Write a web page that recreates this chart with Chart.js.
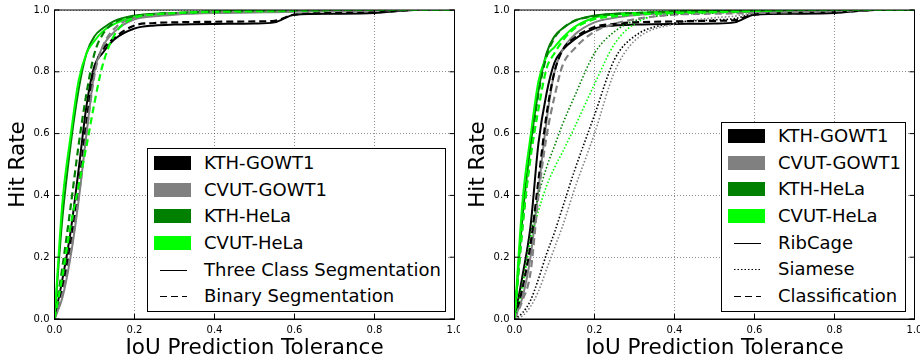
<!DOCTYPE html>
<html>
<head>
<meta charset="utf-8">
<script src="https://cdn.jsdelivr.net/npm/chart.js@4.4.1/dist/chart.umd.min.js"></script>
<style>
body { margin:0; background:#fff; width:923px; height:360px; overflow:hidden; position:relative; font-family:"DejaVu Sans", sans-serif; }
.panel { position:absolute; top:0; width:460px; height:360px; }
.legend { position:absolute; background:#fff; border:1px solid #000; box-sizing:border-box; font-size:18px; color:#000; }
.row { position:absolute; left:0; height:26px; }
.row .patch { position:absolute; left:6px; top:6px; width:37px; height:14px; }
.row svg { position:absolute; left:12px; top:0; }
.row .txt { position:absolute; left:56px; top:0; line-height:26px; white-space:nowrap; }
</style>
</head>
<body>
<div class="panel" style="left:0"><canvas id="left-canvas" width="460" height="360"></canvas></div>
<div class="panel" style="left:460px"><canvas id="right-canvas" width="460" height="360"></canvas></div>
<div class="legend" id="left-legend" style="left:147px; top:148px; width:299px; height:164px;"></div>
<div class="legend" id="right-legend" style="left:721px; top:122px; width:185px; height:190px;"></div>
<script>
// IoU tolerance values shared by every curve
let tolerance = [0, 0.02, 0.04, 0.06, 0.08, 0.1, 0.12, 0.15, 0.2, 0.25, 0.3, 0.4, 0.5, 0.55, 0.6, 0.7, 0.8, 0.9, 1.0];
let tick_values = [0, 0.2, 0.4, 0.6, 0.8, 1.0];

// left panel: three class segmentation (solid)
let left_kth_gowt_three  = [0, 0.13, 0.28, 0.48, 0.69, 0.82, 0.86, 0.905, 0.94, 0.95, 0.953, 0.955, 0.956, 0.96, 0.985, 0.988, 0.99, 1, 1];
let left_cvut_gowt_three = [0, 0.07, 0.2, 0.38, 0.6, 0.8, 0.88, 0.93, 0.97, 0.98, 0.985, 0.99, 0.992, 0.993, 0.994, 0.996, 0.998, 1, 1];
let left_kth_hela_three  = [0, 0.33, 0.56, 0.74, 0.86, 0.915, 0.94, 0.965, 0.982, 0.988, 0.99, 0.995, 0.997, 0.998, 0.998, 1, 1, 1, 1];
let left_cvut_hela_three = [0, 0.38, 0.59, 0.77, 0.86, 0.9, 0.93, 0.955, 0.978, 0.986, 0.99, 0.993, 0.995, 0.996, 0.997, 1, 1, 1, 1];
// left panel: binary segmentation (dashed)
let left_kth_gowt_binary  = [0, 0.1, 0.24, 0.42, 0.64, 0.81, 0.87, 0.91, 0.95, 0.958, 0.96, 0.962, 0.963, 0.965, 0.985, 0.99, 0.992, 1, 1];
let left_cvut_gowt_binary = [0, 0.08, 0.21, 0.39, 0.6, 0.79, 0.88, 0.94, 0.975, 0.985, 0.99, 0.993, 0.995, 0.996, 0.997, 0.998, 0.999, 1, 1];
let left_kth_hela_binary  = [0, 0.17, 0.36, 0.56, 0.73, 0.86, 0.92, 0.96, 0.98, 0.987, 0.99, 0.995, 0.997, 0.998, 0.999, 1, 1, 1, 1];
let left_cvut_hela_binary = [0, 0.14, 0.3, 0.43, 0.56, 0.7, 0.82, 0.92, 0.975, 0.985, 0.99, 0.995, 0.997, 0.998, 0.999, 1, 1, 1, 1];

// right panel: RibCage (solid)
let rib_kth_gowt  = [0, 0.14, 0.3, 0.57, 0.73, 0.83, 0.87, 0.905, 0.94, 0.95, 0.953, 0.955, 0.956, 0.96, 0.985, 0.988, 0.99, 1, 1];
let rib_cvut_gowt = [0, 0.07, 0.2, 0.42, 0.64, 0.8, 0.87, 0.92, 0.96, 0.975, 0.983, 0.99, 0.992, 0.993, 0.994, 0.996, 0.998, 1, 1];
let rib_kth_hela  = [0, 0.33, 0.56, 0.74, 0.86, 0.915, 0.94, 0.965, 0.982, 0.988, 0.99, 0.995, 0.997, 0.998, 0.998, 1, 1, 1, 1];
let rib_cvut_hela = [0, 0.38, 0.59, 0.77, 0.85, 0.88, 0.91, 0.945, 0.975, 0.985, 0.99, 0.993, 0.995, 0.996, 0.997, 1, 1, 1, 1];
// right panel: Siamese (dotted)
let sia_kth_gowt  = [0, 0.02, 0.06, 0.13, 0.21, 0.28, 0.36, 0.48, 0.66, 0.84, 0.915, 0.958, 0.968, 0.972, 0.988, 0.99, 0.993, 1, 1];
let sia_cvut_gowt = [0, 0.01, 0.04, 0.09, 0.16, 0.23, 0.3, 0.42, 0.6, 0.8, 0.9, 0.955, 0.975, 0.98, 0.99, 0.993, 0.996, 1, 1];
let sia_kth_hela  = [0, 0.12, 0.27, 0.4, 0.49, 0.56, 0.63, 0.72, 0.86, 0.93, 0.965, 0.985, 0.99, 0.992, 0.995, 0.998, 1, 1, 1];
let sia_cvut_hela = [0, 0.1, 0.25, 0.35, 0.43, 0.49, 0.54, 0.62, 0.76, 0.89, 0.955, 0.99, 0.995, 0.996, 0.997, 1, 1, 1, 1];
// right panel: Classification (dashed)
let cls_kth_gowt  = [0, 0.1, 0.24, 0.45, 0.66, 0.8, 0.87, 0.91, 0.945, 0.955, 0.96, 0.963, 0.965, 0.967, 0.985, 0.99, 0.992, 1, 1];
let cls_cvut_gowt = [0, 0.06, 0.15, 0.4, 0.59, 0.72, 0.82, 0.875, 0.93, 0.955, 0.97, 0.985, 0.988, 0.989, 0.99, 0.993, 0.996, 1, 1];
let cls_kth_hela  = [0, 0.3, 0.54, 0.73, 0.85, 0.91, 0.94, 0.965, 0.98, 0.987, 0.99, 0.995, 0.997, 0.998, 0.999, 1, 1, 1, 1];
let cls_cvut_hela = [0, 0.3, 0.52, 0.68, 0.81, 0.86, 0.9, 0.94, 0.97, 0.98, 0.985, 0.99, 0.993, 0.995, 0.997, 1, 1, 1, 1];

let dataset_names = ['KTH-GOWT1', 'CVUT-GOWT1', 'KTH-HeLa', 'CVUT-HeLa'];
let dataset_colors = ['#000000', '#808080', '#008000', '#00ff00'];
let left_styles = ['Three Class Segmentation', 'Binary Segmentation'];
let right_styles = ['RibCage', 'Siamese', 'Classification'];

let dash_for = { solid: [], dotted: [1.5, 2], dashed: [7, 4] };
let width_for = { solid: 2, dotted: 1.6, dashed: 2.2 };
let font_family = '"DejaVu Sans", sans-serif';

let makeSeries = function(values, color_idx, style) {
	return {
		data: tolerance.map((t, i) => ({ x: t, y: values[i] })),
		borderColor: dataset_colors[color_idx],
		backgroundColor: dataset_colors[color_idx],
		borderWidth: width_for[style],
		borderDash: dash_for[style],
		fill: false
	};
};

// spines on four sides plus inward tick marks
let framePlugin = {
	id: 'frame',
	afterDraw: function(chart) {
		let ctx = chart.ctx;
		let a = chart.chartArea;
		let xs = chart.scales.x, ys = chart.scales.y;
		ctx.save();
		ctx.strokeStyle = '#000';
		ctx.lineWidth = 1;
		ctx.strokeRect(a.left, a.top, a.right - a.left, a.bottom - a.top);
		ctx.beginPath();
		for (var i = 0; i < tick_values.length; i++) {
			let px = xs.getPixelForValue(tick_values[i]);
			let py = ys.getPixelForValue(tick_values[i]);
			ctx.moveTo(px, a.bottom); ctx.lineTo(px, a.bottom - 5);
			ctx.moveTo(px, a.top); ctx.lineTo(px, a.top + 5);
			ctx.moveTo(a.left, py); ctx.lineTo(a.left + 5, py);
			ctx.moveTo(a.right, py); ctx.lineTo(a.right - 5, py);
		};
		ctx.stroke();
		ctx.restore();
	}
};

let axisOptions = function(title, is_x) {
	return {
		type: 'linear',
		min: 0,
		max: 1,
		afterFit: function(s) {
			if (is_x) { s.height = 41; } else { s.width = 54.5; }
			s.paddingLeft = 0; s.paddingRight = 0; s.paddingTop = 0; s.paddingBottom = 0;
		},
		ticks: {
			stepSize: 0.2,
			padding: 5,
			color: '#000',
			maxRotation: 0,
			font: { family: font_family, size: 10 },
			callback: v => Number(v).toFixed(1)
		},
		grid: { color: 'rgba(0,0,0,0.55)', lineWidth: 0.8, drawTicks: false },
		border: { display: true, color: '#000', width: 1, dash: [1, 2] },
		title: {
			display: true,
			text: title,
			color: '#000',
			font: { family: font_family, size: 21.5, lineHeight: 1 },
			padding: is_x ? { top: 0, bottom: 1 } : { top: 7.5, bottom: 0 }
		}
	};
};

let makeChart = function(canvas_id, datasets) {
	return new Chart(document.getElementById(canvas_id).getContext('2d'), {
		type: 'line',
		data: { datasets: datasets },
		options: {
			responsive: false,
			animation: false,
			layout: { padding: { top: 10, right: 5.5, left: 0, bottom: 0 } },
			plugins: { legend: { display: false }, tooltip: { enabled: false } },
			elements: { point: { radius: 0 }, line: { cubicInterpolationMode: 'monotone', borderCapStyle: 'butt' } },
			scales: {
				x: axisOptions('IoU Prediction Tolerance', true),
				y: axisOptions('Hit Rate', false)
			}
		},
		plugins: [framePlugin]
	});
};

let left_sets = [
	makeSeries(left_kth_gowt_three, 0, 'solid'),
	makeSeries(left_cvut_gowt_three, 1, 'solid'),
	makeSeries(left_kth_hela_three, 2, 'solid'),
	makeSeries(left_cvut_hela_three, 3, 'solid'),
	makeSeries(left_kth_gowt_binary, 0, 'dashed'),
	makeSeries(left_cvut_gowt_binary, 1, 'dashed'),
	makeSeries(left_kth_hela_binary, 2, 'dashed'),
	makeSeries(left_cvut_hela_binary, 3, 'dashed')
];
let right_sets = [
	makeSeries(rib_kth_gowt, 0, 'solid'),
	makeSeries(rib_cvut_gowt, 1, 'solid'),
	makeSeries(rib_kth_hela, 2, 'solid'),
	makeSeries(rib_cvut_hela, 3, 'solid'),
	makeSeries(sia_kth_gowt, 0, 'dotted'),
	makeSeries(sia_cvut_gowt, 1, 'dotted'),
	makeSeries(sia_kth_hela, 2, 'dotted'),
	makeSeries(sia_cvut_hela, 3, 'dotted'),
	makeSeries(cls_kth_gowt, 0, 'dashed'),
	makeSeries(cls_cvut_gowt, 1, 'dashed'),
	makeSeries(cls_kth_hela, 2, 'dashed'),
	makeSeries(cls_cvut_hela, 3, 'dashed')
];
// later series on top, as in the original plot
left_sets.forEach((d, i) => d.order = left_sets.length - i);
right_sets.forEach((d, i) => d.order = right_sets.length - i);

makeChart('left-canvas', left_sets);
makeChart('right-canvas', right_sets);

//build legends
let buildLegend = function(el_id, styles, style_keys, top_offset) {
	let legend = document.getElementById(el_id);
	let rows = '';
	let idx = 0;
	for (var i = 0; i < dataset_names.length; i++, idx++) {
		rows += `<div class='row' style='top:${top_offset + idx * 26.65}px'>
			<div class='patch' style='background:${dataset_colors[i]}'></div>
			<div class='txt'>${dataset_names[i]}</div></div>`;
	};
	for (var j = 0; j < styles.length; j++, idx++) {
		let dash = dash_for[style_keys[j]].join(',');
		rows += `<div class='row' style='top:${top_offset + idx * 26.65}px'>
			<svg width='27' height='26'><line x1='0' y1='13.5' x2='27' y2='13.5' stroke='#000' stroke-width='1' stroke-dasharray='${dash}'/></svg>
			<div class='txt'>${styles[j]}</div></div>`;
	};
	legend.innerHTML = rows;
};
buildLegend('left-legend', left_styles, ['solid', 'dashed'], 1);
buildLegend('right-legend', right_styles, ['solid', 'dotted', 'dashed'], 0);
</script>
</body>
</html>
